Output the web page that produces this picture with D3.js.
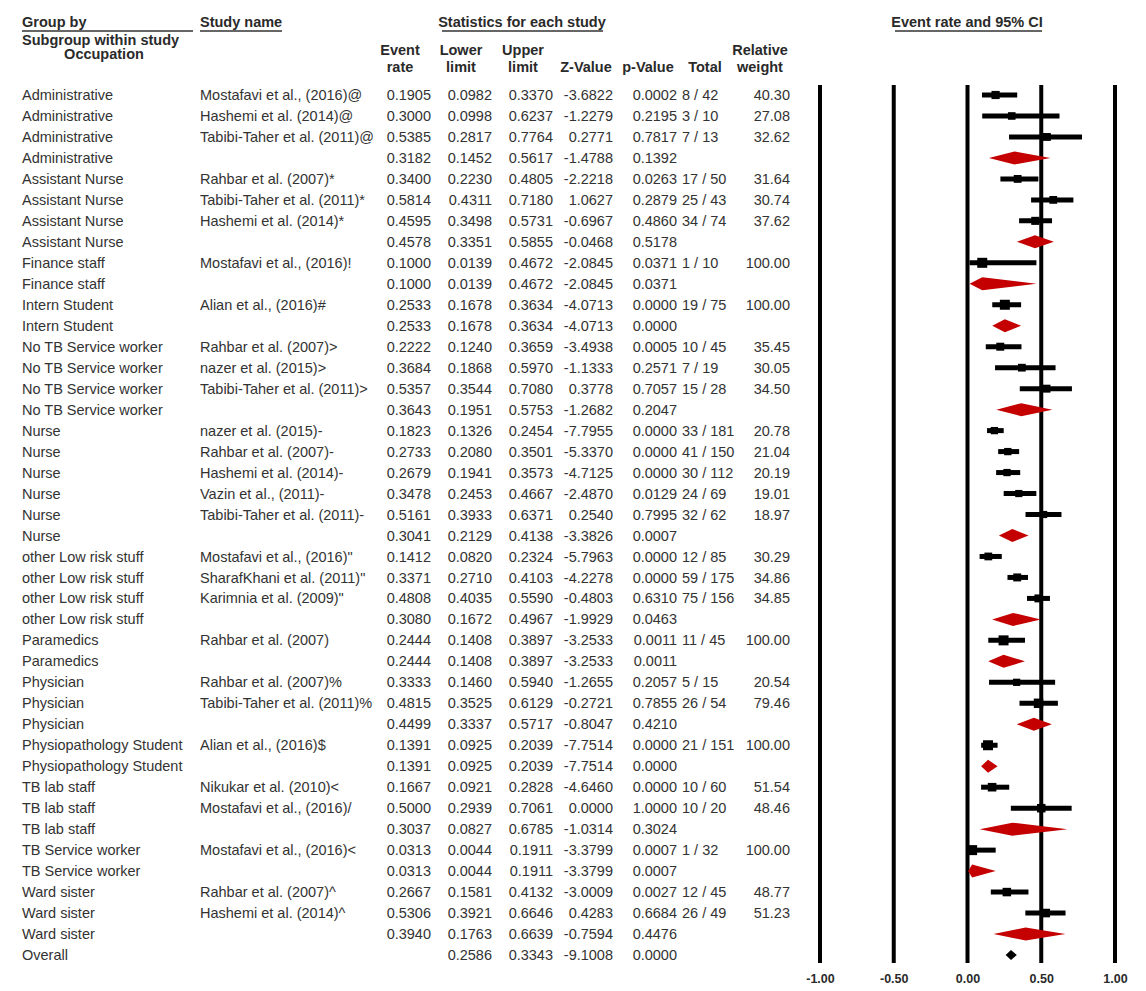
<!DOCTYPE html>
<html>
<head>
<meta charset="utf-8">
<script src="https://cdn.jsdelivr.net/npm/d3@7"></script>
<style>
  body { margin: 0; background: #fff; }
  svg { display: block; font-family: "Liberation Sans", Arial, sans-serif; }
  .hdr { font-weight: bold; font-size: 14.5px; fill: #2a2a2a; }
  .cell { font-size: 14.5px; fill: #333; }
  .tick-label { font-weight: bold; font-size: 12.5px; fill: #2a2a2a; }
</style>
</head>
<body>
<svg id="chart" width="1146" height="991"></svg>
<script>
// ---------- data

const groups = [
  "Administrative", "Administrative", "Administrative", "Administrative",
  "Assistant Nurse", "Assistant Nurse", "Assistant Nurse", "Assistant Nurse",
  "Finance staff", "Finance staff",
  "Intern Student", "Intern Student",
  "No TB Service worker", "No TB Service worker", "No TB Service worker", "No TB Service worker",
  "Nurse", "Nurse", "Nurse", "Nurse", "Nurse", "Nurse",
  "other Low risk  stuff", "other Low risk  stuff", "other Low risk  stuff", "other Low risk  stuff",
  "Paramedics", "Paramedics",
  "Physician", "Physician", "Physician",
  "Physiopathology Student", "Physiopathology Student",
  "TB lab staff", "TB lab staff", "TB lab staff",
  "TB Service worker", "TB Service worker",
  "Ward sister", "Ward sister", "Ward sister",
  "Overall"
];

const studies = [
  "Mostafavi et al., (2016)@", "Hashemi et al. (2014)@", "Tabibi-Taher et al. (2011)@", "",
  "Rahbar et al. (2007)*", "Tabibi-Taher et al. (2011)*", "Hashemi et al. (2014)*", "",
  "Mostafavi et al., (2016)!", "",
  "Alian et al., (2016)#", "",
  "Rahbar et al. (2007)>", "nazer et al. (2015)>", "Tabibi-Taher et al. (2011)>", "",
  "nazer et al. (2015)-", "Rahbar et al. (2007)-", "Hashemi et al. (2014)-", "Vazin et al., (2011)-", "Tabibi-Taher et al. (2011)-", "",
  "Mostafavi et al., (2016)\"", "SharafKhani et al. (2011)\"", "Karimnia et al.  (2009)\"", "",
  "Rahbar et al. (2007)", "",
  "Rahbar et al. (2007)%", "Tabibi-Taher et al. (2011)%", "",
  "Alian et al., (2016)$", "",
  "Nikukar et al. (2010)<", "Mostafavi et al., (2016)/", "",
  "Mostafavi et al., (2016)<", "",
  "Rahbar et al. (2007)^", "Hashemi et al. (2014)^", "",
  ""
];

const eventRate = [
  0.1905, 0.3000, 0.5385, 0.3182,
  0.3400, 0.5814, 0.4595, 0.4578,
  0.1000, 0.1000,
  0.2533, 0.2533,
  0.2222, 0.3684, 0.5357, 0.3643,
  0.1823, 0.2733, 0.2679, 0.3478, 0.5161, 0.3041,
  0.1412, 0.3371, 0.4808, 0.3080,
  0.2444, 0.2444,
  0.3333, 0.4815, 0.4499,
  0.1391, 0.1391,
  0.1667, 0.5000, 0.3037,
  0.0313, 0.0313,
  0.2667, 0.5306, 0.3940,
  null
];

// overall estimate is not printed in the table, only drawn
const overallRate = 0.2950;

const lowerLimit = [
  0.0982, 0.0998, 0.2817, 0.1452,
  0.2230, 0.4311, 0.3498, 0.3351,
  0.0139, 0.0139,
  0.1678, 0.1678,
  0.1240, 0.1868, 0.3544, 0.1951,
  0.1326, 0.2080, 0.1941, 0.2453, 0.3933, 0.2129,
  0.0820, 0.2710, 0.4035, 0.1672,
  0.1408, 0.1408,
  0.1460, 0.3525, 0.3337,
  0.0925, 0.0925,
  0.0921, 0.2939, 0.0827,
  0.0044, 0.0044,
  0.1581, 0.3921, 0.1763,
  0.2586
];

const upperLimit = [
  0.3370, 0.6237, 0.7764, 0.5617,
  0.4805, 0.7180, 0.5731, 0.5855,
  0.4672, 0.4672,
  0.3634, 0.3634,
  0.3659, 0.5970, 0.7080, 0.5753,
  0.2454, 0.3501, 0.3573, 0.4667, 0.6371, 0.4138,
  0.2324, 0.4103, 0.5590, 0.4967,
  0.3897, 0.3897,
  0.5940, 0.6129, 0.5717,
  0.2039, 0.2039,
  0.2828, 0.7061, 0.6785,
  0.1911, 0.1911,
  0.4132, 0.6646, 0.6639,
  0.3343
];

const zValue = [
  -3.6822, -1.2279, 0.2771, -1.4788,
  -2.2218, 1.0627, -0.6967, -0.0468,
  -2.0845, -2.0845,
  -4.0713, -4.0713,
  -3.4938, -1.1333, 0.3778, -1.2682,
  -7.7955, -5.3370, -4.7125, -2.4870, 0.2540, -3.3826,
  -5.7963, -4.2278, -0.4803, -1.9929,
  -3.2533, -3.2533,
  -1.2655, -0.2721, -0.8047,
  -7.7514, -7.7514,
  -4.6460, 0.0000, -1.0314,
  -3.3799, -3.3799,
  -3.0009, 0.4283, -0.7594,
  -9.1008
];

const pValue = [
  0.0002, 0.2195, 0.7817, 0.1392,
  0.0263, 0.2879, 0.4860, 0.5178,
  0.0371, 0.0371,
  0.0000, 0.0000,
  0.0005, 0.2571, 0.7057, 0.2047,
  0.0000, 0.0000, 0.0000, 0.0129, 0.7995, 0.0007,
  0.0000, 0.0000, 0.6310, 0.0463,
  0.0011, 0.0011,
  0.2057, 0.7855, 0.4210,
  0.0000, 0.0000,
  0.0000, 1.0000, 0.3024,
  0.0007, 0.0007,
  0.0027, 0.6684, 0.4476,
  0.0000
];

const totals = [
  "8 / 42", "3 / 10", "7 / 13", "",
  "17 / 50", "25 / 43", "34 / 74", "",
  "1 / 10", "",
  "19 / 75", "",
  "10 / 45", "7 / 19", "15 / 28", "",
  "33 / 181", "41 / 150", "30 / 112", "24 / 69", "32 / 62", "",
  "12 / 85", "59 / 175", "75 / 156", "",
  "11 / 45", "",
  "5 / 15", "26 / 54", "",
  "21 / 151", "",
  "10 / 60", "10 / 20", "",
  "1 / 32", "",
  "12 / 45", "26 / 49", "",
  ""
];

const weights = [
  40.30, 27.08, 32.62, null,
  31.64, 30.74, 37.62, null,
  100.00, null,
  100.00, null,
  35.45, 30.05, 34.50, null,
  20.78, 21.04, 20.19, 19.01, 18.97, null,
  30.29, 34.86, 34.85, null,
  100.00, null,
  20.54, 79.46, null,
  100.00, null,
  51.54, 48.46, null,
  100.00, null,
  48.77, 51.23, null,
  null
];

const tickValues = [-1, -0.5, 0, 0.5, 1];

// ---------- layout

const RED = "#c40000";
const TEXT_X_GROUP = 22;
const TEXT_X_STUDY = 200;

const svg = d3.select("#chart");
const n = groups.length;

const y = d3.scaleLinear().domain([0, n - 1]).range([95, 955]);
const x = d3.scaleLinear().domain([-1, 1]).range([820, 1115]);

// plain hyphen for negatives, as in the source table
const locale = d3.formatLocale({ decimal: ".", thousands: ",", grouping: [3], currency: ["", ""], minus: "-" });
const f4 = locale.format(".4f");
const f2 = locale.format(".2f");

function kindOf(i) {
  if (groups[i] === "Overall") return "overall";
  return studies[i] === "" ? "summary" : "study";
}

// table columns: x position, anchor, accessor
const columns = [
  { x: 431, anchor: "end", value: (i) => (eventRate[i] == null ? "" : f4(eventRate[i])) },
  { x: 492, anchor: "end", value: (i) => f4(lowerLimit[i]) },
  { x: 553, anchor: "end", value: (i) => f4(upperLimit[i]) },
  { x: 613, anchor: "end", value: (i) => f4(zValue[i]) },
  { x: 677, anchor: "end", value: (i) => f4(pValue[i]) },
  { x: 682, anchor: "start", value: (i) => totals[i] },
  { x: 790, anchor: "end", value: (i) => (weights[i] == null ? "" : f2(weights[i])) },
];

// ---------- headers

function header(txt, xPos, yPos, anchor) {
  svg.append("text").attr("class", "hdr")
    .attr("x", xPos).attr("y", yPos)
    .attr("text-anchor", anchor || "start")
    .text(txt);
}

function underline(x1, x2, yPos) {
  svg.append("line")
    .attr("x1", x1).attr("x2", x2).attr("y1", yPos).attr("y2", yPos)
    .attr("stroke", "#333").attr("stroke-width", 1.3);
}

header("Group by", TEXT_X_GROUP, 27);
underline(TEXT_X_GROUP, 193, 31);
header("Subgroup within study", TEXT_X_GROUP, 45);
header("Occupation", 104, 59, "middle");
header("Study name", TEXT_X_STUDY, 27);
underline(TEXT_X_STUDY, 282, 31);
header("Statistics for each study", 522, 27, "middle");
underline(442, 603, 31);
header("Event rate and 95% CI", 967, 27, "middle");
underline(895, 1042, 31);

const colHeaders = [
  ["Event", "rate", 400],
  ["Lower", "limit", 461],
  ["Upper", "limit", 523],
  ["", "Z-Value", 586],
  ["", "p-Value", 648],
  ["", "Total", 705],
  ["Relative", "weight", 760],
];
colHeaders.forEach(function (h) {
  if (h[0]) header(h[0], h[2], 55, "middle");
  header(h[1], h[2], 72, "middle");
});

// ---------- table rows

const rows = svg.append("g").selectAll("g")
  .data(d3.range(n))
  .enter().append("g")
  .attr("transform", (i) => `translate(0,${y(i)})`);

rows.append("text").attr("class", "cell")
  .attr("x", TEXT_X_GROUP).attr("dy", "0.35em")
  .text((i) => groups[i]);

rows.append("text").attr("class", "cell")
  .attr("x", TEXT_X_STUDY).attr("dy", "0.35em")
  .text((i) => studies[i]);

columns.forEach(function (c) {
  rows.append("text").attr("class", "cell")
    .attr("x", c.x).attr("dy", "0.35em")
    .attr("text-anchor", c.anchor)
    .text((i) => c.value(i));
});

// ---------- plot: reference lines and ticks

const plot = svg.append("g");

plot.selectAll("line.ref")
  .data(tickValues)
  .enter().append("line")
  .attr("class", "ref")
  .attr("x1", (d) => x(d)).attr("x2", (d) => x(d))
  .attr("y1", 85).attr("y2", 963)
  .attr("stroke", "#000").attr("stroke-width", 4);

const axis = d3.axisBottom(x).tickValues(tickValues).tickFormat(f2).tickSize(0);
const axisG = plot.append("g").attr("transform", "translate(0,971)").call(axis);
axisG.select(".domain").remove();
axisG.selectAll("text").attr("class", "tick-label").attr("font-size", null).attr("font-family", null);

// ---------- plot: studies, subgroup diamonds, overall

const marks = plot.append("g").selectAll("g")
  .data(d3.range(n))
  .enter().append("g")
  .attr("transform", (i) => `translate(0,${y(i)})`);

const studyMarks = marks.filter((i) => kindOf(i) === "study");
const boxSize = (i) => 5 + 5 * Math.sqrt(weights[i] / 100);

studyMarks.append("line")
  .attr("x1", (i) => x(lowerLimit[i])).attr("x2", (i) => x(upperLimit[i]))
  .attr("stroke", "#000").attr("stroke-width", 5);

studyMarks.append("rect")
  .attr("x", (i) => x(eventRate[i]) - boxSize(i) / 2)
  .attr("y", (i) => -boxSize(i) / 2)
  .attr("width", boxSize)
  .attr("height", boxSize)
  .attr("fill", "#000");

function diamond(lo, mid, hi, h) {
  return `M${lo},0L${mid},${-h}L${hi},0L${mid},${h}Z`;
}

marks.filter((i) => kindOf(i) === "summary")
  .append("path")
  .attr("d", (i) => diamond(x(lowerLimit[i]), x(eventRate[i]), x(upperLimit[i]), 6.5))
  .attr("fill", RED);

marks.filter((i) => kindOf(i) === "overall")
  .append("path")
  .attr("d", (i) => diamond(x(lowerLimit[i]), x(overallRate), x(upperLimit[i]), 5))
  .attr("fill", "#000");
</script>
</body>
</html>
